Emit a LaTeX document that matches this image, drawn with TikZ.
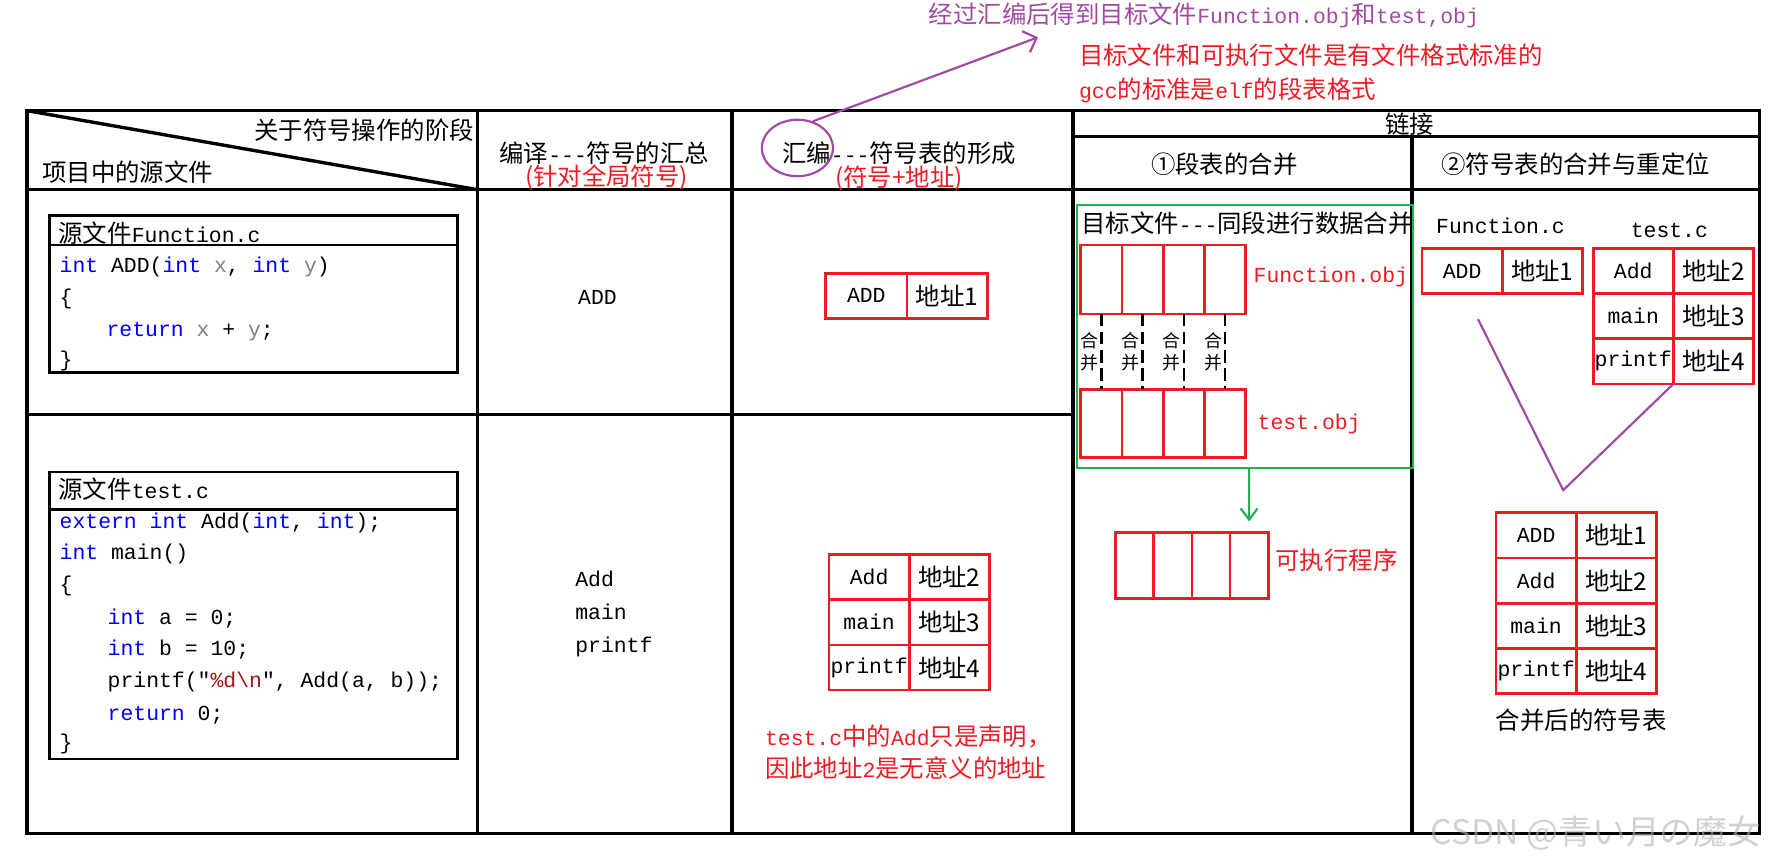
\documentclass[tikz,border=0pt]{standalone}
\usepackage{fontspec}
\setmainfont{Noto Sans CJK SC}
\setmonofont{Liberation Mono}
\usetikzlibrary{arrows.meta,positioning,shapes.geometric}
\definecolor{pred}{RGB}{237,28,36}
\definecolor{ppurple}{RGB}{163,73,164}
\definecolor{pgreen}{RGB}{34,177,76}
\definecolor{kwblue}{RGB}{0,0,255}
\definecolor{vargray}{RGB}{128,128,128}
\definecolor{strred}{RGB}{163,21,21}
\newcommand{\codefont}{\ttfamily\fontsize{10.8}{13}\selectfont}
\newcommand{\asc}[1]{{\codefont #1}}
\newcommand{\kwd}[1]{\textcolor{kwblue}{#1}}
\newcommand{\vgr}[1]{\textcolor{vargray}{#1}}

\begin{document}
\begin{tikzpicture}[x=0.02cm, y=-0.02cm, font=\fontsize{12.3}{14}\selectfont,
	tbl/.style={line width=1.7pt},
	codebox/.style={line width=1.3pt},
	codeln/.style={anchor=base west, inner sep=0pt, font=\codefont},
	symcell/.style={draw=pred, line width=1.4pt, inner sep=0pt, outer sep=0pt, minimum width=1.42cm, minimum height=0.8cm, font=\codefont},
	addrcell/.style={symcell, font=\fontsize{12.3}{14}\selectfont},
	segcell/.style={draw=pred, line width=1.4pt, inner sep=0pt, outer sep=0pt, minimum width=0.73cm},
	rednote/.style={text=pred},
	linkln/.style={ppurple, line width=1.1pt}]
	\useasboundingbox (0,0) rectangle (1568,764);
	% main table
	\draw[tbl] (24,98) rectangle (1558,738);
	\draw[tbl] (24,98) -- (423,168);
	\draw[tbl] (24,168) -- (1558,168);
	\draw[tbl] (24,367) -- (950,367);
	\draw[tbl] (950,121) -- (1558,121);
	\foreach \x in {423,648,950} \draw[tbl] (\x,98) -- (\x,738);
	\draw[tbl] (1250,121) -- (1250,738);
	% headers
	\node[anchor=east, inner sep=0pt] (stagehd) at (420,115) {关于符号操作的阶段};
	\node[anchor=west, inner sep=0pt] (srchd) at (37,152) {项目中的源文件};
	\node (comphd) at (535,136) {编译\asc{---}符号的汇总};
	\node[rednote] (compnote) at (537,157) {(针对全局符号)};
	\node (asmhd) at (796,136) {汇编\asc{---}符号表的形成};
	\node[rednote] (asmnote) at (796,158) {(符号+地址)};
	\node (linkhd) at (1248,110) {链接};
	\node (seghd) at (1084,145) {①段表的合并};
	\node (symhd) at (1395,145) {②符号表的合并与重定位};
	% notes on top
	\node[ellipse, draw=ppurple, line width=1.1pt, minimum width=1.26cm, minimum height=1cm] (asmring) at (706,131) {};
	\node[text=ppurple, anchor=west, inner sep=0pt] (objnote) at (822,14) {经过汇编后得到目标文件\asc{Function.obj}和\asc{test,obj}};
	\coordinate (annotip) at (919,33);
	\draw[linkln, -{Straight Barb[length=2mm,width=4mm]}] (asmring.60) -- (annotip);
	\node[rednote, anchor=west, align=left, inner sep=0pt, font=\fontsize{12.3}{17}\selectfont] (fmtnote) at (955,65) {目标文件和可执行文件是有文件格式标准的\\\asc{gcc}的标准是\asc{elf}的段表格式};
	% source files
	\draw[codebox] (44,191) rectangle (405,330);
	\draw[codebox] (44,217) -- (405,217);
	\node[anchor=west, inner sep=0pt] (fsrc) at (51.5,206) {源文件\asc{Function.c}};
	\foreach \x/\y/\ln [count=\k] in {52.5/241/{\kwd{int} ADD(\kwd{int} \vgr{x}, \kwd{int} \vgr{y})}, 52.5/269.5/{\{}, 94/297.5/{\kwd{return} \vgr{x} + \vgr{y};}, 52.5/324.5/{\}}}
		\node[codeln] (fln\k) at (\x,\y) {\ln};
	\draw[codebox] (44,418) rectangle (405,672);
	\draw[codebox] (44,451) -- (405,451);
	\node[anchor=west, inner sep=0pt] (tsrc) at (51.5,433) {源文件\asc{test.c}};
	\foreach \x/\y/\ln [count=\k] in {52.5/467.5/{\kwd{extern} \kwd{int} Add(\kwd{int}, \kwd{int});}, 52.5/495.5/{\kwd{int} main()}, 52.5/523.5/{\{}, 95/552.5/{\kwd{int} a = 0;}, 95/580.5/{\kwd{int} b = 10;}, 95/608.5/{printf("\textcolor{strred}{\%d\textbackslash n}", Add(a, b));}, 95/637.5/{\kwd{return} 0;}, 52.5/663.5/{\}}}
		\node[codeln] (tln\k) at (\x,\y) {\ln};
	% compile: symbols
	\node[codeln, anchor=base] (csym1) at (529,269.5) {ADD};
	\foreach \y/\s [count=\k] in {519.5/Add, 548.5/main, 577.5/printf}
		\node[codeln] (csym\k) at (509,\y) {\s};
	% assemble: symbol tables
	\node[symcell, minimum width=1.44cm] (af1) at (767,262) {ADD};
	\node[addrcell, right=0pt of af1] (afa1) {地址1};
	\node[symcell] (at1) at (769.5,511) {Add};
	\node[symcell, below=0pt of at1] (at2) {main};
	\node[symcell, below=0pt of at2] (at3) {printf};
	\foreach \k in {1,2,3} {\pgfmathtruncatemacro{\n}{\k+1} \node[addrcell, right=0pt of at\k] (ata\k) {地址\n};}
	\node[rednote, anchor=west, align=left, inner sep=0pt, font=\fontsize{12.3}{16.2}\selectfont] (declnote) at (677,666) {\asc{test.c}中的\asc{Add}只是声明，\\因此地址\asc{2}是无意义的地址};
	% link 1: sections
	\node[draw=pgreen, line width=1.1pt, inner sep=0pt, minimum width=5.96cm, minimum height=4.66cm] (gbox) at (1102.3,298) {};
	\node[anchor=west, inner sep=0pt] (gtitle) at (957,197.5) {目标文件\asc{---}同段进行数据合并};
	\foreach \i/\x in {1/975.2, 2/1011.7, 3/1048.2, 4/1084.7} {
		\node[segcell, minimum height=1.22cm] (fo\i) at (\x,247.5) {};
		\node[segcell, minimum height=1.2cm] (to\i) at (\x,374.8) {};
		\draw[line width=1.3pt, dash pattern=on 0.22cm off 0.1cm] (fo\i.south) -- node[left, inner sep=1pt, align=center, font=\fontsize{9}{10.8}\selectfont] {合\\并} (to\i.north);
	}
	\node[rednote, anchor=west, inner sep=0pt, font=\codefont] (folbl) at (1109.6,245) {Function.obj};
	\node[rednote, anchor=west, inner sep=0pt, font=\codefont] (tolbl) at (1113.2,375) {test.obj};
	\node[segcell, minimum width=0.675cm, minimum height=1.16cm] (ex1) at (1004.7,500.7) {};
	\foreach \i [count=\j from 2] in {1,2,3}
		\node[segcell, minimum width=0.675cm, minimum height=1.16cm, right=0pt of ex\i] (ex\j) {};
	\node[rednote, anchor=west, inner sep=0pt] (exlbl) at (1129,496) {可执行程序};
	\draw[pgreen, line width=1.1pt, -{Straight Barb[length=2mm,width=3mm]}, shorten >=0.2cm] (gbox.south -| ex4.north) -- (ex4.north);
	% link 2: symbol tables
	\node[codeln, anchor=base] (ffname) at (1328.5,207) {Function.c};
	\node[codeln, anchor=base] (tfname) at (1478,210.5) {test.c};
	\node[symcell] (fs1) at (1294.5,240) {ADD};
	\node[addrcell, right=0pt of fs1] (fsa1) {地址1};
	\node[symcell] (ts1) at (1446,240) {Add};
	\node[symcell, below=0pt of ts1] (ts2) {main};
	\node[symcell, below=0pt of ts2] (ts3) {printf};
	\foreach \k in {1,2,3} {\pgfmathtruncatemacro{\n}{\k+1} \node[addrcell, right=0pt of ts\k] (tsa\k) {地址\n};}
	\coordinate (vstart) at (1308.6,282.6);
	\coordinate (vtip) at (1384,434);
	\draw[linkln] (vstart) -- (vtip) -- (ts3.south east);
	\node[symcell] (ms1) at (1360,474) {ADD};
	\node[symcell, below=0pt of ms1] (ms2) {Add};
	\node[symcell, below=0pt of ms2] (ms3) {main};
	\node[symcell, below=0pt of ms3] (ms4) {printf};
	\foreach \k in {1,2,3,4} \node[addrcell, right=0pt of ms\k] (msa\k) {地址\k};
	\node (mergedlbl) at (1400,637.5) {合并后的符号表};
	% watermark
	\node[text=gray!60, text opacity=0.6, font=\fontsize{17}{20}\selectfont] (wmark) at (1413,738) {CSDN @青い月の魔女};
\end{tikzpicture}
\end{document}
